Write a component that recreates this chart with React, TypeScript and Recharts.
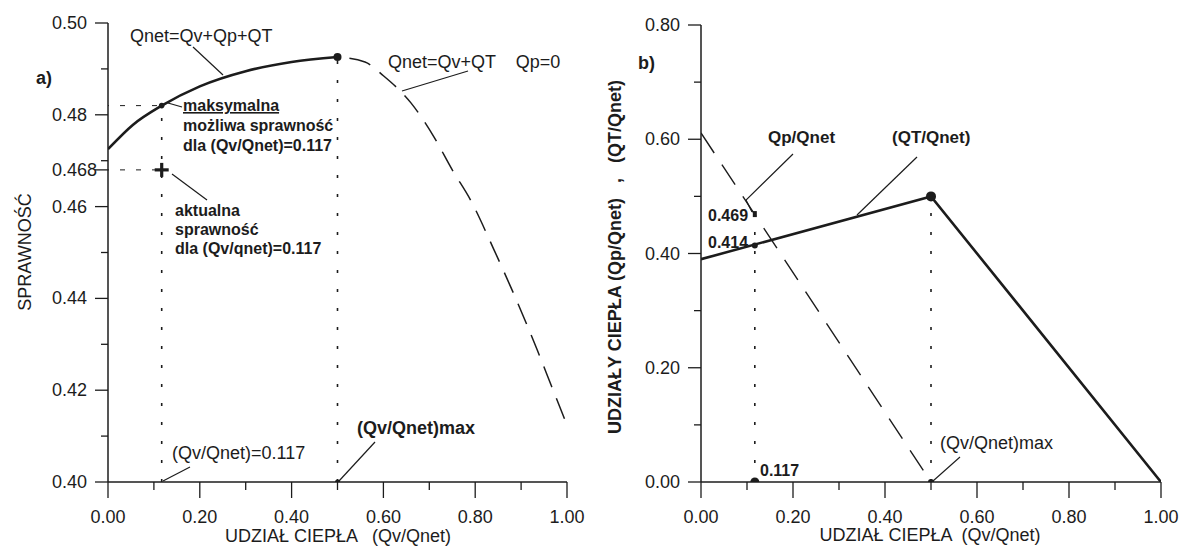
import { ComposedChart, Line, Scatter, XAxis, YAxis } from 'recharts';

const FONT = '"Liberation Sans", Arial, sans-serif';
const INK = '#1c1c1c';

// axis ticks (minor ones carry no label)
const shareTicks = [0, 0.1, 0.2, 0.3, 0.4, 0.5, 0.6, 0.7, 0.8, 0.9, 1];
const shareMajor = [0, 0.2, 0.4, 0.6, 0.8, 1];
const effTicks = [0.4, 0.41, 0.42, 0.43, 0.44, 0.45, 0.46, 0.468, 0.47, 0.48, 0.49, 0.5];
const effMajor = [0.4, 0.42, 0.44, 0.46, 0.468, 0.48, 0.5];
const partTicks = [0, 0.1, 0.2, 0.3, 0.4, 0.5, 0.6, 0.7, 0.8];
const partMajor = [0, 0.2, 0.4, 0.6, 0.8];

// key values
const qvActual = 0.117;
const qvMax = 0.5;
const effMaxAtActual = 0.482;
const effActual = 0.468;
const effPeak = 0.4926;
const qtAtActual = 0.414;
const qpAtActual = 0.469;
const qtPeak = 0.5;

// a) efficiency vs Qv/Qnet
const effWithQp = [
  { x: 0, y: 0.4725 },
  { x: 0.054, y: 0.4778 },
  { x: 0.117, y: 0.482 },
  { x: 0.2, y: 0.4862 },
  { x: 0.3, y: 0.4895 },
  { x: 0.4, y: 0.4915 },
  { x: 0.5, y: 0.4926 },
];
const effNoQp = [
  { x: 0.5, y: 0.4926 },
  { x: 0.56, y: 0.4915 },
  { x: 0.6, y: 0.4885 },
  { x: 0.66, y: 0.4826 },
  { x: 0.71, y: 0.4752 },
  { x: 0.75, y: 0.468 },
  { x: 0.79, y: 0.4614 },
  { x: 0.84, y: 0.4508 },
  { x: 0.89, y: 0.4396 },
  { x: 0.935, y: 0.4288 },
  { x: 0.967, y: 0.4207 },
  { x: 1, y: 0.4124 },
];

// b) heat shares
const qtShare = [
  { x: 0, y: 0.39 },
  { x: 0.5, y: 0.5 },
  { x: 1, y: 0 },
];
const qpShare = [
  { x: 0, y: 0.611 },
  { x: 0.5, y: 0 },
];

const isIn = (list: number[], v: number) => list.some(m => Math.abs(m - v) < 1e-6);

function XTick({ x, y, payload }: any) {
  const v = payload.value as number;
  const major = isIn(shareMajor, v);
  return (
    <g>
      <line x1={x} x2={x} y1={y} y2={y + (major ? 16 : 8)} stroke={INK} strokeWidth={1.3} />
      {major && (
        <text x={x} y={y + 41} textAnchor="middle" fontFamily={FONT} fontSize={18} fill={INK}>
          {v.toFixed(2)}
        </text>
      )}
    </g>
  );
}

function makeYTick(major: number[]) {
  return ({ x, y, payload }: any) => {
    const v = payload.value as number;
    const isMajor = isIn(major, v);
    const label = Math.abs(v - 0.468) < 1e-6 ? '0.468' : v.toFixed(2);
    return (
      <g>
        <line x1={x - (isMajor ? 13 : 7)} x2={x} y1={y} y2={y} stroke={INK} strokeWidth={1.3} />
        {isMajor && (
          <text x={x - 56} y={y + 6} textAnchor="start" fontFamily={FONT} fontSize={18} fill={INK}>
            {label}
          </text>
        )}
      </g>
    );
  };
}

const dot = (r: number) => (p: any) => <circle cx={p.cx} cy={p.cy} r={r} fill={INK} />;
const cross = (p: any) => (
  <g stroke={INK} strokeWidth={3.2}>
    <line x1={p.cx - 7} x2={p.cx + 7} y1={p.cy} y2={p.cy} />
    <line x1={p.cx} x2={p.cx} y1={p.cy - 7} y2={p.cy + 7} />
  </g>
);
const square = (p: any) => <rect x={p.cx - 2} y={p.cy - 3} width={4} height={6} fill={INK} />;

const axisLine = { stroke: INK, strokeWidth: 1.5 };
const dotted = '3 16';

function EfficiencyChart() {
  return (
    <ComposedChart width={590} height={548} margin={{ top: 23, right: 23, bottom: 36, left: 48 }}>
      <XAxis
        type="number"
        dataKey="x"
        domain={[0, 1]}
        ticks={shareTicks}
        interval={0}
        tickSize={0}
        tickMargin={0}
        tickLine={false}
        tick={(p: any) => <XTick {...p} />}
        height={30}
        axisLine={axisLine}
        allowDataOverflow
      />
      <YAxis
        type="number"
        dataKey="y"
        domain={[0.4, 0.5]}
        ticks={effTicks}
        interval={0}
        tickSize={0}
        tickMargin={0}
        tickLine={false}
        tick={makeYTick(effMajor)}
        width={60}
        axisLine={axisLine}
        allowDataOverflow
      />
      <Line
        data={[{ x: qvActual, y: 0.4 }, { x: qvActual, y: effMaxAtActual }]}
        dataKey="y"
        type="linear"
        stroke={INK}
        strokeWidth={1.6}
        strokeDasharray={dotted}
        dot={false}
        isAnimationActive={false}
      />
      <Line
        data={[{ x: qvMax, y: 0.4 }, { x: qvMax, y: effPeak }]}
        dataKey="y"
        type="linear"
        stroke={INK}
        strokeWidth={1.6}
        strokeDasharray={dotted}
        dot={false}
        isAnimationActive={false}
      />
      <Line
        data={[{ x: 0, y: effMaxAtActual }, { x: qvActual, y: effMaxAtActual }]}
        dataKey="y"
        type="linear"
        stroke={INK}
        strokeWidth={1}
        strokeDasharray="5 11"
        strokeDashoffset={-12}
        dot={false}
        isAnimationActive={false}
      />
      <Line
        data={[{ x: 0, y: effActual }, { x: qvActual, y: effActual }]}
        dataKey="y"
        type="linear"
        stroke={INK}
        strokeWidth={1}
        strokeDasharray="5 11"
        strokeDashoffset={-12}
        dot={false}
        isAnimationActive={false}
      />
      <Line
        data={effWithQp}
        dataKey="y"
        type="monotone"
        stroke={INK}
        strokeWidth={2.6}
        dot={false}
        isAnimationActive={false}
      />
      <Line
        data={effNoQp}
        dataKey="y"
        type="monotone"
        stroke={INK}
        strokeWidth={1.5}
        strokeDasharray="22 12"
        strokeDashoffset={22}
        dot={false}
        isAnimationActive={false}
      />
      <Scatter data={[{ x: qvMax, y: effPeak }]} shape={dot(4)} isAnimationActive={false} />
      <Scatter data={[{ x: qvActual, y: effMaxAtActual }]} shape={dot(2.8)} isAnimationActive={false} />
      <Scatter data={[{ x: qvMax, y: 0.4 }]} shape={dot(2.5)} isAnimationActive={false} />
      <Scatter data={[{ x: qvActual, y: effActual }]} shape={cross} isAnimationActive={false} />
    </ComposedChart>
  );
}

function SharesChart() {
  return (
    <ComposedChart width={589} height={548} margin={{ top: 25, right: 18, bottom: 36, left: 51 }}>
      <XAxis
        type="number"
        dataKey="x"
        domain={[0, 1]}
        ticks={shareTicks}
        interval={0}
        tickSize={0}
        tickMargin={0}
        tickLine={false}
        tick={(p: any) => <XTick {...p} />}
        height={30}
        axisLine={axisLine}
        allowDataOverflow
      />
      <YAxis
        type="number"
        dataKey="y"
        domain={[0, 0.8]}
        ticks={partTicks}
        interval={0}
        tickSize={0}
        tickMargin={0}
        tickLine={false}
        tick={makeYTick(partMajor)}
        width={60}
        axisLine={axisLine}
        allowDataOverflow
      />
      <Line
        data={[{ x: qvActual, y: 0 }, { x: qvActual, y: qpAtActual }]}
        dataKey="y"
        type="linear"
        stroke={INK}
        strokeWidth={1.6}
        strokeDasharray={dotted}
        dot={false}
        isAnimationActive={false}
      />
      <Line
        data={[{ x: qvMax, y: 0 }, { x: qvMax, y: qtPeak }]}
        dataKey="y"
        type="linear"
        stroke={INK}
        strokeWidth={1.6}
        strokeDasharray={dotted}
        dot={false}
        isAnimationActive={false}
      />
      <Line
        data={qpShare}
        dataKey="y"
        type="linear"
        stroke={INK}
        strokeWidth={1.4}
        strokeDasharray="24 14"
        dot={false}
        isAnimationActive={false}
      />
      <Line
        data={qtShare}
        dataKey="y"
        type="linear"
        stroke={INK}
        strokeWidth={2.6}
        dot={false}
        isAnimationActive={false}
      />
      <Scatter data={[{ x: qvMax, y: qtPeak }]} shape={dot(5)} isAnimationActive={false} />
      <Scatter data={[{ x: qvActual, y: qtAtActual }]} shape={dot(3)} isAnimationActive={false} />
      <Scatter data={[{ x: qvActual, y: qpAtActual }]} shape={square} isAnimationActive={false} />
      <Scatter data={[{ x: qvActual, y: 0 }]} shape={dot(4.5)} isAnimationActive={false} />
      <Scatter data={[{ x: qvMax, y: 0 }]} shape={dot(3)} isAnimationActive={false} />
    </ComposedChart>
  );
}

function Notes() {
  const t = { fontFamily: FONT, fill: INK } as const;
  const lead = { stroke: INK, strokeWidth: 1.2 } as const;
  return (
    <svg
      width={1179}
      height={548}
      style={{ position: 'absolute', left: 0, top: 0, pointerEvents: 'none' }}
    >
      {/* a) */}
      <text {...t} x={36} y={84} fontSize={18} fontWeight="bold">a)</text>
      <text {...t} x={130} y={42} fontSize={18}>Qnet=Qv+Qp+QT</text>
      <line {...lead} x1={193} y1={47} x2={223} y2={75} />
      <text {...t} x={183} y={111} fontSize={16} fontWeight="bold" textDecoration="underline">
        maksymalna
      </text>
      <text {...t} x={183} y={131} fontSize={16} fontWeight="bold">możliwa sprawność</text>
      <text {...t} x={183} y={151} fontSize={16} fontWeight="bold">dla (Qv/Qnet)=0.117</text>
      <line {...lead} x1={168} y1={103} x2={182} y2={107} />
      <text {...t} x={175} y={216} fontSize={16} fontWeight="bold">aktualna</text>
      <text {...t} x={175} y={235} fontSize={16} fontWeight="bold">sprawność</text>
      <text {...t} x={175} y={254} fontSize={16} fontWeight="bold">dla (Qv/qnet)=0.117</text>
      <line {...lead} x1={172} y1={174} x2={207} y2={200} />
      <text {...t} x={388} y={68} fontSize={18} style={{ whiteSpace: 'pre' }}>
        {'Qnet=Qv+QT    Qp=0'}
      </text>
      <line {...lead} x1={468} y1={71} x2={402} y2={91} />
      <text {...t} x={172} y={459} fontSize={18}>(Qv/Qnet)=0.117</text>
      <line {...lead} x1={163} y1={481} x2={190} y2={467} />
      <text {...t} x={357} y={434} fontSize={18} fontWeight="bold">(Qv/Qnet)max</text>
      <line {...lead} x1={339} y1={481} x2={375} y2={442} />
      <text {...t} x={338} y={542} fontSize={18} textAnchor="middle" style={{ whiteSpace: 'pre' }}>
        {'UDZIAŁ CIEPŁA   (Qv/Qnet)'}
      </text>
      <text {...t} x={31} y={252} fontSize={18} textAnchor="middle" transform="rotate(-90 31 252)">
        SPRAWNOŚĆ
      </text>

      {/* b) */}
      <text {...t} x={638} y={69} fontSize={18} fontWeight="bold">b)</text>
      <text {...t} x={768} y={143} fontSize={17} fontWeight="bold">Qp/Qnet</text>
      <polyline {...lead} fill="none" points="793,154 746,200 752,212" />
      <text {...t} x={892} y={143} fontSize={17} fontWeight="bold">(QT/Qnet)</text>
      <line {...lead} x1={917} y1={157} x2={857} y2={215} />
      <text {...t} x={708} y={221} fontSize={16} fontWeight="bold">0.469</text>
      <text {...t} x={708} y={248} fontSize={16} fontWeight="bold">0.414</text>
      <text {...t} x={760} y={476} fontSize={16} fontWeight="bold">0.117</text>
      <text {...t} x={940} y={449} fontSize={18}>(Qv/Qnet)max</text>
      <line {...lead} x1={960} y1={457} x2={933} y2={481} />
      <text {...t} x={930} y={541} fontSize={18} textAnchor="middle" style={{ whiteSpace: 'pre' }}>
        {'UDZIAŁ CIEPŁA  (Qv/Qnet)'}
      </text>
      <text
        {...t}
        x={621}
        y={257}
        fontSize={18}
        fontWeight="bold"
        textAnchor="middle"
        transform="rotate(-90 621 257)"
        style={{ whiteSpace: 'pre' }}
      >
        {'UDZIAŁY CIEPŁA (Qp/Qnet)   ,   (QT/Qnet)'}
      </text>
    </svg>
  );
}

export default function App() {
  return (
    <div
      style={{
        position: 'absolute',
        left: 0,
        top: 0,
        width: 1179,
        height: 548,
        background: '#fff',
        overflow: 'hidden',
      }}
    >
      <div style={{ position: 'absolute', left: 0, top: 0 }}>
        <EfficiencyChart />
      </div>
      <div style={{ position: 'absolute', left: 590, top: 0 }}>
        <SharesChart />
      </div>
      <Notes />
    </div>
  );
}
